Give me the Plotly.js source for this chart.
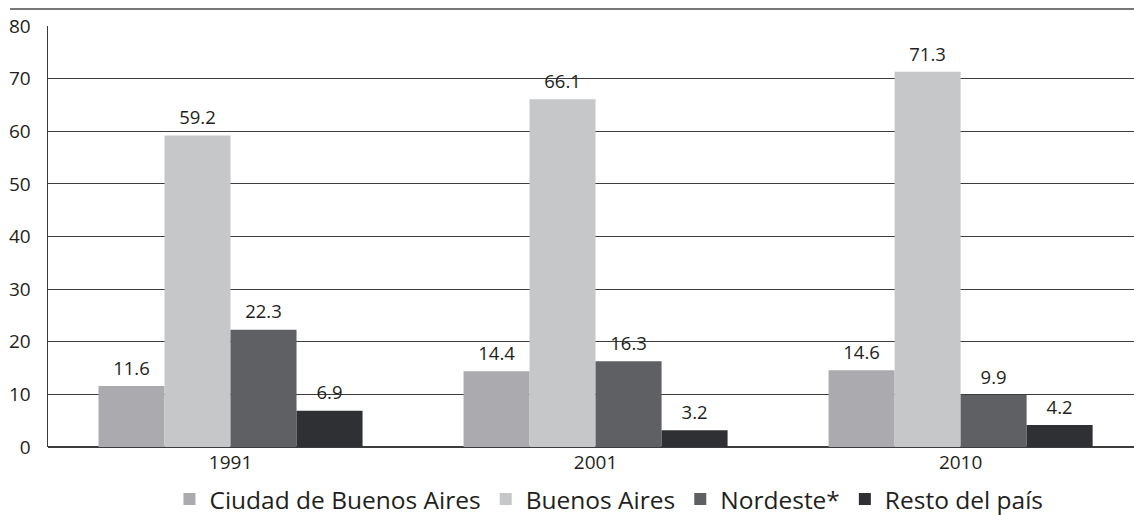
<!DOCTYPE html>
<html>
<head>
<meta charset="utf-8">
<script src="https://cdn.plot.ly/plotly-3.0.1.min.js"></script>
<style>
html,body{margin:0;padding:0;background:#fff;}
#chart{width:1134px;height:515px;}
</style>
</head>
<body>
<div id="chart"></div>
<script>
var years = ["1991", "2001", "2010"];
var ciudad = [11.6, 14.4, 14.6];
var buenosAires = [59.2, 66.1, 71.3];
var nordeste = [22.3, 16.3, 9.9];
var resto = [6.9, 3.2, 4.2];
var seriesNames = ["Ciudad de Buenos Aires", "Buenos Aires", "Nordeste*", "Resto del país"];
var seriesColors = ["#ababaf", "#c6c7c9", "#5f6064", "#2f3033"];
var yTicks = [0, 10, 20, 30, 40, 50, 60, 70, 80];

var seriesValues = [ciudad, buenosAires, nordeste, resto];
var textColor = "#231f20";
var fontFamily = "'Open Sans', 'Noto Sans', sans-serif";
var gap = 0.2767;

var barTraces = seriesValues.map(function (vals, i) {
  return {
    type: "bar",
    name: seriesNames[i],
    x: years,
    y: vals,
    marker: {color: seriesColors[i], line: {width: 0}},
    hoverinfo: "none"
  };
});

var labelTraces = seriesValues.map(function (vals, i) {
  return {
    type: "scatter",
    mode: "markers+text",
    orientation: "v",
    showlegend: false,
    x: years,
    y: vals,
    text: vals.map(function (v) { return v.toFixed(1); }),
    textposition: "top center",
    cliponaxis: false,
    textfont: {family: fontFamily, size: 18.5, color: textColor},
    marker: {size: 9, opacity: 0, color: seriesColors[i]},
    hoverinfo: "none"
  };
});

var layout = {
  width: 1134,
  height: 515,
  margin: {l: 48, r: 0, t: 26, b: 68, autoexpand: false},
  paper_bgcolor: "#ffffff",
  plot_bgcolor: "#ffffff",
  barmode: "group",
  bargap: gap,
  bargroupgap: 0,
  scattermode: "group",
  scattergap: gap,
  showlegend: true,
  font: {family: fontFamily, color: textColor},
  xaxis: {
    type: "category",
    range: [-0.5, 2.475],
    showgrid: false,
    zeroline: false,
    showline: false,
    ticks: "",
    tickfont: {family: fontFamily, size: 19, color: textColor},
    ticklabelstandoff: 2,
    automargin: false
  },
  yaxis: {
    range: [0, 80],
    tickvals: yTicks,
    showgrid: true,
    gridcolor: "#3c3c3c",
    gridwidth: 1,
    zeroline: true,
    zerolinecolor: "#3c3c3c",
    zerolinewidth: 1.5,
    showline: true,
    linecolor: "#3c3c3c",
    linewidth: 1.5,
    ticks: "",
    tickfont: {family: fontFamily, size: 19, color: textColor},
    ticklabelstandoff: 12,
    automargin: false
  },
  legend: {
    orientation: "h",
    xref: "container",
    yref: "container",
    x: 0.537,
    xanchor: "center",
    y: 0.031,
    yanchor: "middle",
    font: {family: fontFamily, size: 24.5, color: textColor},
    bgcolor: "rgba(0,0,0,0)",
    itemclick: false,
    itemdoubleclick: false
  },
  shapes: [{
    type: "line",
    xref: "paper",
    yref: "paper",
    x0: -0.035,
    x1: 1,
    y0: 1.0404,
    y1: 1.0404,
    line: {color: "#4a4a4a", width: 1.5}
  }]
};

Plotly.newPlot("chart", barTraces.concat(labelTraces), layout, {staticPlot: true, displayModeBar: false});
</script>
</body>
</html>
